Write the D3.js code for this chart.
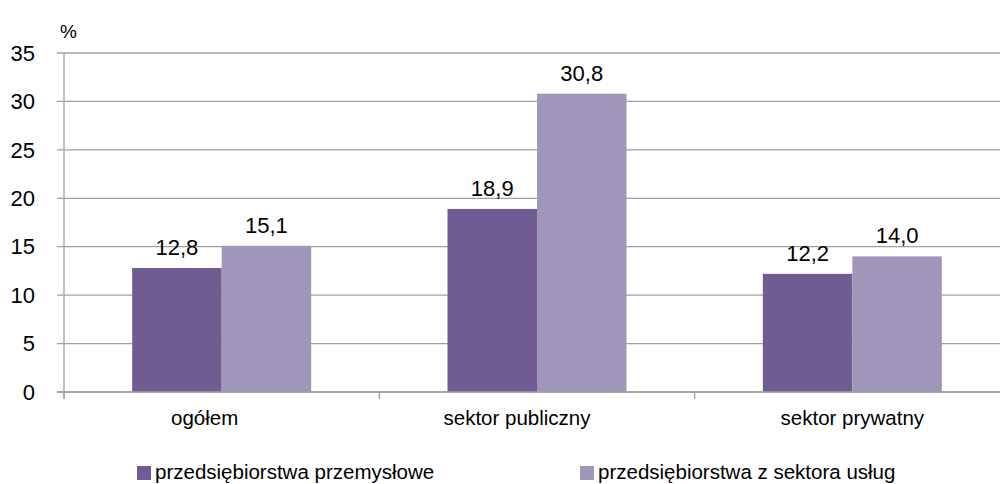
<!DOCTYPE html>
<html><head><meta charset="utf-8">
<script src="https://cdn.jsdelivr.net/npm/d3@7"></script>
<style>
body{margin:0;background:#fff;}
text{font-family:"Liberation Sans",Arial,sans-serif;fill:#000;}
</style></head>
<body><svg id="c" width="1000" height="484"></svg>
<script>
const categories = ["ogółem", "sektor publiczny", "sektor prywatny"];
const seriesNames = ["przedsiębiorstwa przemysłowe", "przedsiębiorstwa z sektora usług"];
const industry = [12.8, 18.9, 12.2];
const services = [15.1, 30.8, 14.0];
const yTicks = [0, 5, 10, 15, 20, 25, 30, 35];
const colors = ["#6e5c92", "#a096b9"];
const labelShift = [-17, -20, 0];

const svg = d3.select("#c");
const pLeft = 64, pRight = 1010, pTop = 53, pBottom = 392;
const x = d3.scaleBand().domain(categories).range([pLeft, pRight]);
const y = d3.scaleLinear().domain([0, 35]).range([pBottom, pTop]);
const barW = 89.5;

// gridlines
svg.append("g").selectAll("line").data(yTicks).join("line")
  .attr("x1", pLeft - 7).attr("x2", 1000)
  .attr("y1", d => y(d)).attr("y2", d => y(d))
  .attr("stroke", "#a0a0a0").attr("stroke-width", 1.3);

// y axis line
svg.append("line").attr("x1", pLeft).attr("x2", pLeft).attr("y1", pTop).attr("y2", pBottom + 7)
  .attr("stroke", "#a0a0a0").attr("stroke-width", 1.3);

// y tick labels
svg.append("g").selectAll("text").data(yTicks).join("text")
  .attr("x", 35).attr("y", d => y(d)).attr("dy", "0.35em")
  .attr("text-anchor", "end").attr("font-size", 22).text(d => d);

svg.append("text").attr("x", 60).attr("y", 38).attr("font-size", 19).text("%");

// x ticks
const bounds = [pLeft, ...categories.slice(1).map(c => x(c))];
svg.append("g").selectAll("line").data(bounds).join("line")
  .attr("x1", d => d).attr("x2", d => d).attr("y1", pBottom).attr("y2", pBottom + 7)
  .attr("stroke", "#a0a0a0").attr("stroke-width", 1.3);

const data = categories.map((c, i) => ({c, vals: [industry[i], services[i]]}));
const g = svg.append("g").selectAll("g").data(data).join("g");
g.each(function(d, i) {
  const cx = x(d.c) + x.bandwidth() / 2;
  const sel = d3.select(this);
  d.vals.forEach((v, j) => {
    const bx = cx - barW + j * barW;
    sel.append("rect").attr("x", bx).attr("y", y(v)).attr("width", barW)
      .attr("height", y(0) - y(v)).attr("fill", colors[j]);
    sel.append("text").attr("x", bx + barW / 2).attr("y", y(v) - 13)
      .attr("text-anchor", "middle").attr("font-size", 22)
      .text(d3.format(".1f")(v).replace(".", ","));
  });
  sel.append("text").attr("x", cx + labelShift[i]).attr("y", 425)
    .attr("text-anchor", "middle").attr("font-size", 20.5).text(d.c);
});

// redraw baseline on top
svg.append("line").attr("x1", pLeft - 7).attr("x2", 1000).attr("y1", pBottom).attr("y2", pBottom)
  .attr("stroke", "#a0a0a0").attr("stroke-width", 1.3);

// legend
const legX = [137, 580];
seriesNames.forEach((n, i) => {
  svg.append("rect").attr("x", legX[i]).attr("y", 466).attr("width", 14).attr("height", 14).attr("fill", colors[i]);
  svg.append("text").attr("x", legX[i] + 18).attr("y", 479).attr("font-size", 20.5).text(n);
});
</script></body></html>
